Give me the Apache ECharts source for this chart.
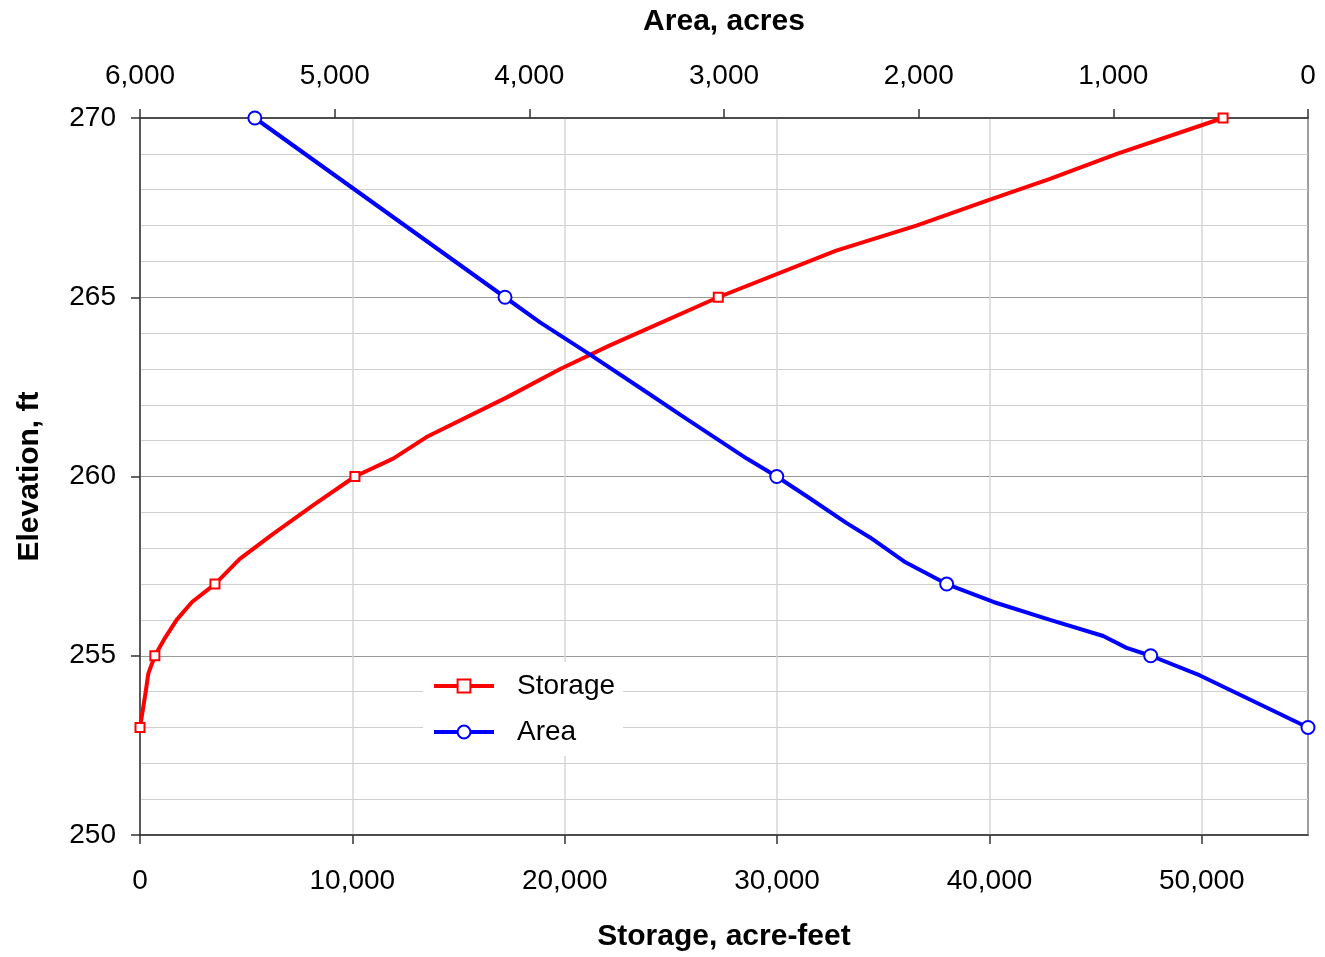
<!DOCTYPE html>
<html>
<head>
<meta charset="utf-8">
<script src="https://cdn.jsdelivr.net/npm/echarts@6/dist/echarts.min.js"></script>
<style>html,body{margin:0;padding:0;background:#fff}#c{width:1325px;height:957px}</style>
</head>
<body>
<div id="c"></div>
<script>
// Storage curve: elevation (ft) vs storage (acre-feet)
const storageElev = [253, 254, 254.5, 255, 255.5, 256, 256.5, 257, 257.7, 258.4, 259.2, 260, 260.5, 261.1, 262.2, 263, 263.65, 265, 266.3, 267, 267.7, 268.3, 269, 270];
const storageVals = [0, 270, 390, 700, 1180, 1725, 2450, 3530, 4700, 6270, 8160, 10120, 11920, 13490, 17250, 19790, 22100, 27230, 32780, 36560, 39920, 42850, 46000, 51000];
// Area curve: elevation (ft) vs area (acres)
const areaElev = [253, 254.45, 255, 255.22, 255.55, 256, 256.5, 257, 257.63, 258.3, 258.7, 259.45, 260, 260.5, 261.7, 262.35, 263.4, 264.3, 265, 270];
const areaVals = [0, 555, 808, 932, 1052, 1325, 1616, 1856, 2075, 2250, 2370, 2575, 2729, 2883, 3218, 3397, 3688, 3945, 4125, 5410];
// Elevations where markers are drawn
const markerElev = [253, 255, 257, 260, 265, 270];
// Tick labels
const storageTicks = [0, 10000, 20000, 30000, 40000, 50000];
const areaTicks = [0, 1000, 2000, 3000, 4000, 5000, 6000];
const elevTicks = [250, 255, 260, 265, 270];

const FONT = "'Liberation Sans', Arial, sans-serif";
const fmt = v => Number(v).toLocaleString('en-US');

const chart = echarts.init(document.getElementById('c'), null, {renderer: 'canvas'});
chart.setOption({
  animation: false,
  backgroundColor: '#fff',
  textStyle: {fontFamily: FONT},
  grid: {left: 140, right: 17, top: 118, bottom: 119, show: true, borderColor: '#808080', borderWidth: 1.5, backgroundColor: 'transparent'},
  legend: {
    orient: 'vertical', left: 423, top: 662,
    padding: [10, 8, 10, 9],
    backgroundColor: '#fff',
    itemWidth: 60, itemHeight: 16, itemGap: 18,
    lineStyle: {width: 4},
    textStyle: {fontFamily: FONT, fontSize: 28, color: '#000', lineHeight: 28, padding: [0, 0, 0, 18]},
    data: ['Storage', 'Area']
  },
  xAxis: [
    {
      type: 'value', position: 'bottom', min: 0, max: 55000, interval: 10000,
      name: 'Storage, acre-feet', nameLocation: 'middle', nameGap: 87,
      nameTextStyle: {fontFamily: FONT, fontSize: 30, fontWeight: 'bold', color: '#000'},
      axisLine: {show: true, lineStyle: {color: '#333', width: 1.5}},
      axisTick: {show: true, length: 9, lineStyle: {color: '#333', width: 1.5}, customValues: storageTicks},
      axisLabel: {fontFamily: FONT, fontSize: 28, color: '#000', margin: 32, formatter: fmt, customValues: storageTicks},
      splitLine: {show: true, lineStyle: {color: '#d6d6d6', width: 1.5}}
    },
    {
      type: 'value', position: 'top', min: 0, max: 6000, interval: 1000, inverse: true,
      name: 'Area, acres', nameLocation: 'middle', nameGap: 81,
      nameTextStyle: {fontFamily: FONT, fontSize: 30, fontWeight: 'bold', color: '#000'},
      axisLine: {show: true, lineStyle: {color: '#333', width: 1.5}},
      axisTick: {show: true, length: 9, lineStyle: {color: '#333', width: 1.5}, customValues: areaTicks},
      axisLabel: {fontFamily: FONT, fontSize: 28, color: '#000', margin: 28, formatter: fmt, customValues: areaTicks},
      splitLine: {show: false}
    }
  ],
  yAxis: [{
    type: 'value', min: 250, max: 270, interval: 5,
    name: 'Elevation, ft', nameLocation: 'middle', nameGap: 95,
    nameTextStyle: {fontFamily: FONT, fontSize: 30, fontWeight: 'bold', color: '#000'},
    axisLine: {show: true, lineStyle: {color: '#333', width: 1.5}},
    axisTick: {show: true, length: 9, lineStyle: {color: '#333', width: 1.5}, customValues: elevTicks},
    axisLabel: {fontFamily: FONT, fontSize: 28, color: '#000', margin: 24, customValues: elevTicks},
    splitLine: {show: true, lineStyle: {color: '#9a9a9a', width: 1.2}},
    minorTick: {show: false, splitNumber: 5},
    minorSplitLine: {show: true, lineStyle: {color: '#cfcfcf', width: 1.2}}
  }],
  series: [
    {
      name: 'Storage', type: 'line', xAxisIndex: 0, yAxisIndex: 0,
      data: storageVals.map((s, i) => [s, storageElev[i]]),
      color: '#ff0000',
      symbol: 'emptyRect',
      symbolSize: (v) => markerElev.includes(v[1]) ? 9 : 0,
      showSymbol: true,
      itemStyle: {borderWidth: 2, color: '#ff0000'},
      lineStyle: {color: '#ff0000', width: 4},
      z: 3
    },
    {
      name: 'Area', type: 'line', xAxisIndex: 1, yAxisIndex: 0,
      data: areaVals.map((a, i) => [a, areaElev[i]]),
      color: '#0000ff',
      symbol: 'emptyCircle',
      symbolSize: (v) => markerElev.includes(v[1]) ? 13 : 0,
      showSymbol: true,
      itemStyle: {borderWidth: 2, color: '#0000ff'},
      lineStyle: {color: '#0000ff', width: 4},
      z: 4
    }
  ]
});
</script>
</body>
</html>
